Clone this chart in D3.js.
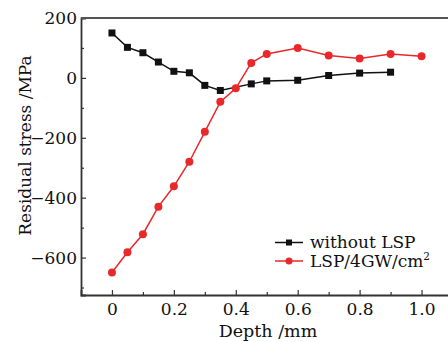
<!DOCTYPE html>
<html>
<head>
<meta charset="utf-8">
<script src="https://cdn.jsdelivr.net/npm/d3@7"></script>
<style>
    body { margin: 0; background: #fff; }
    svg { display: block; font-family: "DejaVu Serif", serif; }
</style>
</head>
<body>
<svg id="chart" width="448" height="342"></svg>
<script>
// data
const depthNo = [0, 0.05, 0.1, 0.15, 0.2, 0.25, 0.3, 0.35, 0.45, 0.5, 0.6, 0.7, 0.8, 0.9];
const stressNo = [150, 102, 84, 53, 22, 17, -25, -42, -20, -10, -8, 8, 16, 19];
const depthLsp = [0, 0.05, 0.1, 0.15, 0.2, 0.25, 0.3, 0.35, 0.4, 0.45, 0.5, 0.6, 0.7, 0.8, 0.9, 1.0];
const stressLsp = [-650, -582, -522, -430, -362, -280, -180, -80, -35, 50, 80, 100, 75, 65, 80, 72];
const xMajor = [0, 0.2, 0.4, 0.6, 0.8, 1.0];
const xMinor = [0.1, 0.3, 0.5, 0.7, 0.9];
const yMajor = [200, 0, -200, -400, -600];
const yMinor = [100, -100, -300, -500, -700];
const seriesNames = ['without LSP', 'LSP/4GW/cm'];

const svg = d3.select('#chart');
const margin = { top: 18, left: 81, bottom: 295 };
const fs = 17;

const x = d3.scaleLinear().domain([-0.1, 1.1]).range([margin.left, 452.5]);
const y = d3.scaleLinear().domain([200, -725]).range([margin.top, margin.bottom]);

const axisColor = '#333';

// minor ticks first (no labels)
const xMinorAxis = d3.axisBottom(x).tickValues(xMinor).tickSize(-3).tickFormat('');
const gxm = svg.append('g').attr('transform', `translate(0,${margin.bottom})`).call(xMinorAxis);
gxm.select('.domain').remove();
gxm.selectAll('line').attr('stroke', axisColor).attr('stroke-width', 1.2);

const yMinorAxis = d3.axisLeft(y).tickValues(yMinor).tickSize(-3).tickFormat('');
const gym = svg.append('g').attr('transform', `translate(${margin.left},0)`).call(yMinorAxis);
gym.select('.domain').remove();
gym.selectAll('line').attr('stroke', axisColor).attr('stroke-width', 1.2);

// major axes
const xAxis = d3.axisBottom(x).tickValues(xMajor).tickSize(-5).tickPadding(8)
    .tickFormat(d => d === 0 ? '0' : d3.format('.1f')(d));
const gx = svg.append('g').attr('transform', `translate(0,${margin.bottom})`).call(xAxis);
gx.select('.domain').attr('stroke', axisColor).attr('stroke-width', 1.8);
gx.selectAll('line').attr('stroke', axisColor).attr('stroke-width', 1.2);
gx.selectAll('text').attr('font-size', fs).attr('fill', '#111').attr('font-family', '"DejaVu Serif", serif');

const yAxis = d3.axisLeft(y).tickValues(yMajor).tickSize(-5).tickPadding(4)
    .tickFormat(d => d < 0 ? '\u2212' + Math.abs(d) : d);
const gy = svg.append('g').attr('transform', `translate(${margin.left},0)`).call(yAxis);
gy.select('.domain').attr('stroke', axisColor).attr('stroke-width', 1.8);
gy.selectAll('line').attr('stroke', axisColor).attr('stroke-width', 1.2);
gy.selectAll('text').attr('font-size', fs).attr('fill', '#111').attr('font-family', '"DejaVu Serif", serif');

// top frame line
svg.append('line')
    .attr('x1', margin.left).attr('x2', 448)
    .attr('y1', margin.top).attr('y2', margin.top)
    .attr('stroke', '#555').attr('stroke-width', 2);

// axis titles
svg.append('text')
    .attr('transform', `translate(31,${(48 + 243) / 2}) rotate(-90)`)
    .attr('text-anchor', 'middle')
    .attr('font-size', fs).attr('fill', '#111')
    .text('Residual stress /MPa');

svg.append('text')
    .attr('x', 268).attr('y', 337)
    .attr('text-anchor', 'middle')
    .attr('font-size', 17.5).attr('fill', '#111')
    .text('Depth /mm');

// lines
const black = '#111';
const red = '#e8282a';

const lineNo = d3.line().x((d, i) => x(depthNo[i])).y(d => y(d));
const lineLsp = d3.line().x((d, i) => x(depthLsp[i])).y(d => y(d));

svg.append('path').attr('d', lineNo(stressNo))
    .attr('fill', 'none').attr('stroke', black).attr('stroke-width', 1.5);
svg.selectAll('.sq').data(stressNo).enter().append('rect')
    .attr('x', (d, i) => x(depthNo[i]) - 3.5)
    .attr('y', d => y(d) - 3.5)
    .attr('width', 7).attr('height', 7)
    .attr('fill', black);

svg.append('path').attr('d', lineLsp(stressLsp))
    .attr('fill', 'none').attr('stroke', red).attr('stroke-width', 1.5);
svg.selectAll('.dot').data(stressLsp).enter().append('circle')
    .attr('cx', (d, i) => x(depthLsp[i]))
    .attr('cy', d => y(d))
    .attr('r', 4)
    .attr('fill', red);

// legend
const legend = svg.append('g').attr('transform', 'translate(275,242.5)');
const rowH = 18.5;
[black, red].forEach((c, i) => {
    const row = legend.append('g').attr('transform', `translate(0,${i * rowH})`);
    row.append('line').attr('x1', 0).attr('x2', 28).attr('stroke', c).attr('stroke-width', 1.5);
    if (i === 0) {
        row.append('rect').attr('x', 11).attr('y', -3).attr('width', 6).attr('height', 6).attr('fill', c);
    } else {
        row.append('circle').attr('cx', 14).attr('r', 3.5).attr('fill', c);
    }
    const t = row.append('text').attr('x', 35).attr('y', 5.5)
        .attr('font-size', 17).attr('fill', '#111')
        .text(seriesNames[i]);
    if (i === 1) {
        t.append('tspan').attr('font-size', 10.5).attr('dy', -7).text('2');
    }
});
</script>
</body>
</html>
